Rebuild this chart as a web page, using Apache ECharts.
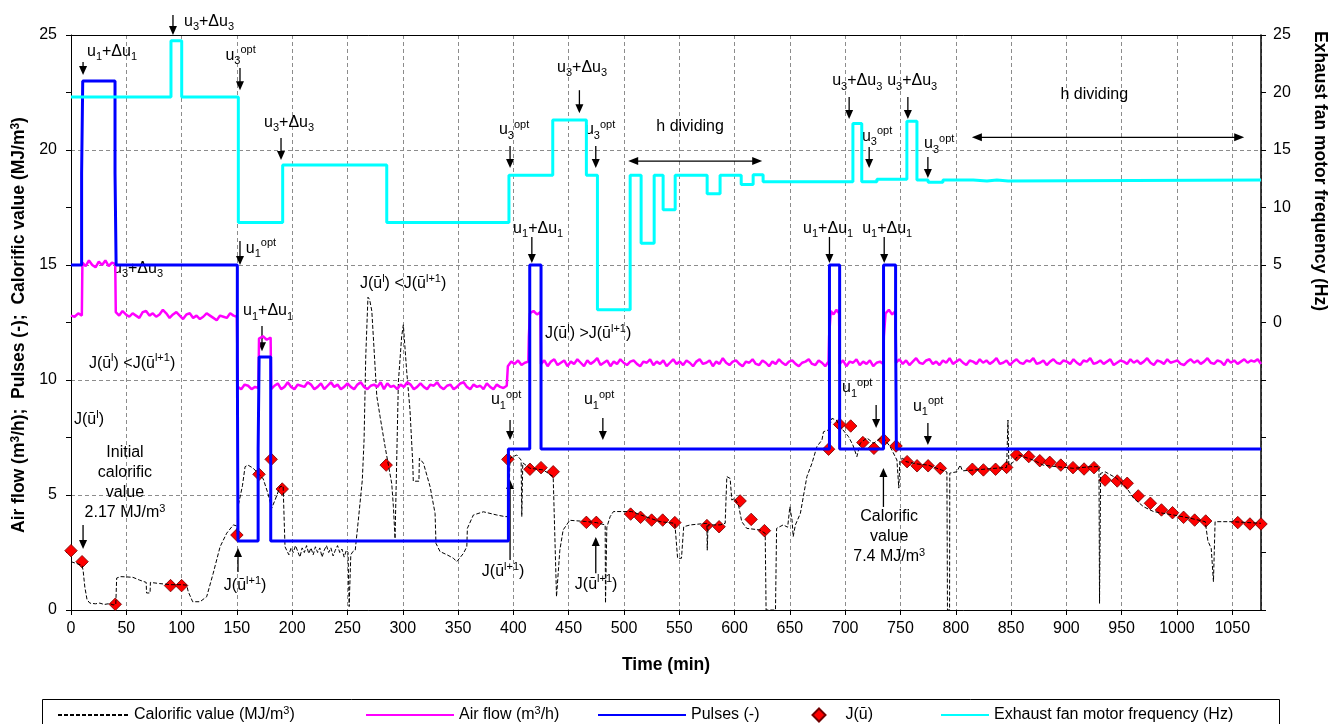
<!DOCTYPE html>
<html>
<head>
<meta charset="utf-8">
<script src="https://cdn.jsdelivr.net/npm/echarts@6/dist/echarts.min.js"></script>
<style>
  html, body { margin: 0; padding: 0; background: #fff; }
  #chart { width: 1338px; height: 724px; }
</style>
</head>
<body>
<div id="chart"></div>
<script>
// ---------------- data ----------------
// Calorific value of the gas (MJ/m3) against time (min)
const calTime = [
  0, 5, 10, 11, 12.5, 14.5, 17, 22, 26, 30, 35, 38, 40.5, 41.3, 45, 50, 56, 62, 68, 68.3, 71.5, 71.8, 80, 90, 100,
  104.6, 106, 110, 116.7, 122.7, 128.6, 134.8, 140.8, 146.8, 150, 150.4, 150.6, 152, 155, 157.4, 160, 164.6, 169,
  173.8, 178, 181.5, 184.5, 189, 191.8, 193.5,
  195, 197, 199, 201, 203, 205, 207, 209, 211, 213, 215, 217, 219, 221, 223, 225, 227, 229, 231, 233, 235, 237, 239,
  241, 243, 245, 247, 249, 250.5, 251.5, 253, 255, 257,
  260, 263.4, 265, 266.5, 268.5, 270, 272, 276.5, 279.5, 284, 287, 290, 291.5, 293, 294.5, 296, 299, 300.5, 303.5,
  306.5, 309, 309.5, 314.6, 315, 318.7, 324.7, 329.2, 330, 333.7, 340, 345.8, 348.8, 354.8, 357.9, 358.4, 363.8,
  372.9, 385, 392.5, 395.5, 397, 403, 407, 407.6, 408.5, 415, 427, 436, 439, 442, 445, 451, 465, 475, 483, 483.3,
  484.5, 487.5, 490.5, 507, 520, 532.7, 546, 548.5, 552, 554, 560, 575, 575.3, 576, 587, 591.5, 593, 596, 597.5,
  600, 603.5, 606.5, 611, 623, 627.7, 628.5, 637, 638, 644, 648, 650, 652, 653, 655, 659.5, 665.4, 670, 674.4, 679,
  680.4, 685, 688, 692, 695.5, 703, 707, 710.6, 713.6, 719.6, 725.6, 731.7, 735, 740.7, 746.8, 748.5, 749.5, 752,
  755, 765, 775, 787, 792, 792.5, 794.4, 794.6, 801, 804, 806, 820, 846, 847.2, 848, 851, 857, 861, 870, 879, 891,
  906.5, 921.6, 929.5, 930, 931, 935, 945.7, 954.8, 960.8, 969.8, 978.8, 987.9, 997, 1012, 1025.6, 1028, 1031,
  1032.5, 1033, 1034.5, 1050, 1076
];
const calValue = [
  2.10, 2.02, 1.94, 1.70, 1.00, 0.45, 0.30, 0.27, 0.30, 0.24, 0.28, 0.22, 0.24, 1.39, 1.45, 1.44, 1.42, 1.30, 1.20,
  0.74, 0.74, 1.20, 1.15, 1.10, 1.10, 1.08, 0.80, 0.36, 0.36, 0.58, 1.60, 2.75, 3.34, 3.70, 3.65, 3.30, 4.40, 4.35,
  5.40, 6.23, 6.30, 6.17, 5.95, 5.70, 5.08, 4.43, 4.78, 5.36, 5.40, 2.75,
  2.70, 2.40, 2.70, 2.50, 2.80, 2.55, 2.30, 2.70, 2.50, 2.80, 2.45, 2.70, 2.40, 2.75, 2.50, 2.70, 2.30, 2.60, 2.80,
  2.50, 2.70, 2.35, 2.60, 2.80, 2.50, 2.65, 2.30, 2.60, 2.50, 0.15, 2.40, 2.55, 2.60,
  4.00, 5.65, 7.40, 11.0, 13.6, 13.5, 13.0, 9.3, 8.4, 7.1, 6.3, 5.5, 4.5, 3.1, 6.5, 9.9, 11.9, 12.4, 10.4,
  8.7, 6.4, 5.6, 5.6, 6.6, 6.38, 5.36, 4.20, 2.90, 2.54, 2.40, 2.25, 2.10, 2.46, 2.75, 3.55, 4.13,
  4.27, 4.13, 4.06, 4.06, 6.60, 6.74, 6.52, 4.06, 6.40, 6.16, 6.09, 5.80, 0.58, 2.60, 3.48, 3.90, 3.85, 3.80, 3.70, 0.30,
  3.60, 4.06, 4.28, 4.28, 4.05, 3.84, 3.77, 2.25, 2.25, 3.62, 3.70, 3.77, 2.60, 3.70, 3.70, 3.77, 5.80, 5.72, 4.78,
  4.85, 4.57, 3.84, 3.55, 3.48, 3.33, 0, 0, 3.55, 3.70, 3.60, 4.49, 3.90, 3.19, 3.70, 4.20, 5.80, 6.38, 7.10, 7.39,
  7.75, 7.83, 8.33, 8.26, 7.97, 7.54, 7.17, 6.67, 7.25, 7.48, 7.25, 7.46, 7.46, 7.10, 6.52, 5.30, 6.52, 6.60,
  6.45, 6.35, 6.30, 6.09, 6.00, 0, 0, 5.95, 6.01, 6.30, 6.05, 6.10, 6.20, 8.26, 6.30, 6.38, 6.74, 6.67, 6.52, 6.30, 6.23,
  6.16, 6.23, 6.23, 0.29, 5.94, 6.01, 5.72, 5.29, 4.86, 4.49, 4.28, 4.20, 4.13, 3.99, 3.84, 3.00, 2.68,
  2.68, 1.23, 3.84, 3.84, 3.77
];

// Air flow (m3/h): [start, end, readings spread evenly over the run]
const airFlowRuns = [
  [0, 9.8, [12.8, 12.75, 12.9, 12.8]],
  [10.3, 40, [15.1, 14.95, 15.2, 15.0, 14.9, 15.15, 15.0, 15.2, 14.95, 15.1, 15.05]],
  [40.5, 150, [12.95, 12.8, 13.0, 12.85, 12.75, 12.9, 12.8, 12.7, 12.95, 13.0, 12.8, 12.9, 12.75, 12.85, 13.05, 12.9,
    12.7, 12.85, 12.95, 12.8, 12.65, 12.85, 12.9, 12.7, 12.8, 12.65, 12.75, 12.9, 12.8, 12.7, 12.6, 12.8, 12.75, 12.7,
    12.9, 12.8, 12.75]],
  [150.8, 169.5, [9.7, 9.6, 9.8, 9.75, 9.6, 9.7, 9.65]],
  [170, 180.5, [11.8, 11.9, 11.75, 11.85]],
  [181, 394, [9.6, 9.75, 9.85, 9.6, 9.7, 9.9, 9.7, 9.6, 9.8, 9.75, 9.7, 9.9, 9.8, 9.6, 9.7, 9.85, 9.6, 9.75, 9.9, 9.7,
    9.8, 9.6, 9.7, 9.85, 9.7, 9.6, 9.8, 9.9, 9.7, 9.6, 9.75, 9.8, 9.7, 9.9, 9.6, 9.85, 9.7, 9.75, 9.6, 9.8, 9.7, 9.9,
    9.8, 9.6, 9.7, 9.85, 9.7, 9.6, 9.8, 9.75, 9.9, 9.7, 9.6, 9.75, 9.8, 9.6, 9.7, 9.85, 9.9, 9.7, 9.6, 9.8, 9.7, 9.75,
    9.6, 9.85, 9.7, 9.6, 9.8, 9.7, 9.65, 9.75]],
  [395, 413.5, [10.6, 10.8, 10.7, 10.85, 10.65, 10.75, 10.8]],
  [414, 414.5, [11.9, 11.9]],
  [415, 424.5, [12.9, 13.0, 12.85, 12.95]],
  [425, 685, [10.7, 10.85, 10.6, 10.8, 10.9, 10.65, 10.75, 10.85, 10.6, 10.8, 10.7, 10.9, 10.75, 10.6, 10.85, 10.7,
    10.8, 10.95, 10.65, 10.75, 10.85, 10.6, 10.8, 10.7, 10.9, 10.75, 10.65, 10.8, 10.85, 10.7, 10.6, 10.8, 10.75, 10.9,
    10.65, 10.8, 10.7, 10.85, 10.6, 10.75, 10.9, 10.7, 10.8, 10.65, 10.85, 10.75, 10.6, 10.8, 10.9, 10.7, 10.75, 10.85,
    10.6, 10.8, 10.7, 10.95, 10.75, 10.65, 10.8, 10.85, 10.7, 10.6, 10.8, 10.75, 10.9, 10.7, 10.65, 10.85, 10.75, 10.6,
    10.8, 10.7, 10.9, 10.75, 10.65, 10.8, 10.85, 10.7, 10.6, 10.75, 10.8, 10.9, 10.7, 10.65, 10.85, 10.75, 10.6, 10.8]],
  [685.5, 686.5, [11.9, 11.9]],
  [687, 694.5, [13.0, 12.85, 13.05, 12.9]],
  [695, 734.5, [10.7, 10.85, 10.6, 10.8, 10.75, 10.9, 10.65, 10.8, 10.7, 10.85, 10.6, 10.75, 10.8, 10.7]],
  [735, 736, [11.9, 11.9]],
  [736.5, 745.5, [12.9, 13.05, 12.85, 13.0]],
  [746, 1076, [10.75, 10.9, 10.7, 10.85, 10.65, 10.8, 10.95, 10.75, 10.7, 10.85, 10.9, 10.7, 10.8, 10.65, 10.85, 10.75,
    10.95, 10.7, 10.8, 10.9, 10.75, 10.65, 10.85, 10.8, 10.7, 10.9, 10.75, 10.85, 10.7, 10.8, 10.95, 10.7, 10.75, 10.85,
    10.65, 10.8, 10.9, 10.75, 10.7, 10.85, 10.8, 10.95, 10.7, 10.75, 10.85, 10.65, 10.8, 10.9, 10.75, 10.7, 10.85, 10.8,
    10.7, 10.9, 10.75, 10.65, 10.85, 10.8, 10.95, 10.7, 10.75, 10.85, 10.7, 10.8, 10.9, 10.65, 10.75, 10.85, 10.8, 10.7,
    10.9, 10.75, 10.85, 10.7, 10.8, 10.95, 10.75, 10.65, 10.85, 10.8, 10.7, 10.9, 10.75, 10.8, 10.85, 10.7, 10.65, 10.8,
    10.9, 10.75, 10.85, 10.7, 10.8, 10.95, 10.75, 10.7, 10.85, 10.8, 10.65, 10.9, 10.75, 10.85, 10.7, 10.8, 10.9, 10.75,
    10.85, 10.8, 10.9, 10.7]]
];

// Pulses (-): value held from each time until the next one
const pulseTime  = [0, 9.6, 10.6, 39.8, 40.8, 150.4, 151, 169.2, 170.1, 180.6, 395.5, 414.8, 425, 685.8, 695, 734.7, 745.6, 746.3, 1076];
const pulseValue = [15, 19, 23, 19, 15, 10.8, 3, 7, 11, 3, 7, 15, 7, 15, 7, 15, 12.2, 7, 7];

// Exhaust fan motor frequency (Hz): value held from each time until the next one
const fanTime = [0, 90.4, 100.1, 151.3, 191.4, 285.5, 396, 435.6, 466, 476, 505.6, 515.5, 527.3, 535.4, 546.3,
  575.2, 586.9, 606, 616.8, 625.8, 707, 715, 728.7, 755.8, 764.9, 775, 788.4, 815.8, 828.2, 837.2, 847.4, 1076];
const fanHz = [19.6, 24.5, 19.6, 8.7, 13.7, 8.7, 12.8, 17.6, 12.8, 1.1, 12.8, 6.9, 12.8, 9.8, 12.8,
  11.2, 12.8, 12.0, 12.85, 12.25, 17.3, 12.25, 12.45, 17.5, 12.4, 12.2, 12.4, 12.3, 12.4, 12.3, 12.4, 12.4];

// Objective J(u) evaluations
const jTime = [0, 10, 40, 90, 100, 150, 170, 181, 191, 285, 395, 415, 425, 436, 466, 475, 506, 515, 525, 535, 546,
  575, 586, 605, 615, 627, 685, 695, 705, 716, 726, 735, 746, 756, 765, 775, 786, 815, 825, 836, 846, 855, 866, 876,
  885, 895, 906, 916, 925, 935, 946, 955, 965, 976, 986, 996, 1006, 1016, 1026, 1055, 1066, 1076];
const jValue = [2.58, 2.10, 0.25, 1.06, 1.06, 3.26, 5.90, 6.55, 5.26, 6.30, 6.55, 6.12, 6.19, 6.01, 3.81, 3.81, 4.17,
  4.03, 3.91, 3.91, 3.80, 3.67, 3.62, 4.74, 3.94, 3.45, 6.99, 8.07, 8.00, 7.28, 7.03, 7.39, 7.13, 6.45, 6.27, 6.27,
  6.16, 6.12, 6.09, 6.12, 6.20, 6.74, 6.67, 6.49, 6.42, 6.30, 6.19, 6.13, 6.19, 5.65, 5.61, 5.51, 4.96, 4.64, 4.35,
  4.23, 4.03, 3.91, 3.87, 3.80, 3.74, 3.74];

// Annotation texts (rich-text markup)
const U1D = 'u{sub|1}+Δu{sub|1}';
const U3D = 'u{sub|3}+Δu{sub|3}';
const U1O = 'u{sub|1}{sup|opt}';
const U3O = 'u{sub|3}{sup|opt}';
const JLT = 'J(ū{sup|l}) <J(ū{sup|l+1})';
const JGT = 'J(ū{sup|l}) >J(ū{sup|l+1})';
const JL  = 'J(ū{sup|l})';
const JL1 = 'J(ū{sup|l+1})';

// [time, left-axis value, text, line height]
const textNotes = [
  [37.1, 24.3, U1D], [124.8, 25.6, U3D], [153.3, 24.1, U3O], [197.2, 21.2, U3D],
  [171.8, 15.7, U1O], [178.2, 13.0, U1D], [55.2, 10.7, JLT], [16.3, 8.26, JL],
  [48.8, 5.52, 'Initial\ncalorific\nvalue\n2.17 MJ/m{sup|3}', 20], [157.4, 1.04, JL1],
  [300.3, 14.17, JLT], [422.4, 16.57, U1D], [467.6, 12.0, JGT], [393.4, 9.13, U1O],
  [477.5, 9.13, U1O], [390.7, 1.65, JL1], [474.8, 1.09, JL1], [400.6, 20.87, U3O],
  [462.1, 23.57, U3D], [478.4, 20.87, U3O], [559.8, 21.0, 'h dividing'], [925.2, 22.39, 'h dividing'],
  [710.9, 23.0, U3D], [760.6, 23.0, U3D], [728.9, 20.58, U3O], [785, 20.26, U3O],
  [684.6, 16.57, U1D], [738, 16.57, U1D], [710.9, 9.65, U1O], [775, 8.83, U1O],
  [739.8, 3.17, 'Calorific\nvalue\n7.4 MJ/m{sup|3}', 20], [60.6, 14.83, U3D]
];

// Vertical arrows: [time, tail value, head value]
const arrowNotes = [
  [10.9, 23.83, 23.26], [92.2, 25.87, 25.0], [152.8, 23.57, 22.6], [189.9, 20.52, 19.57],
  [152.8, 16.04, 15.0], [172.7, 12.35, 11.25], [10.9, 3.7, 2.65], [151, 1.65, 2.7],
  [416.7, 16.22, 15.09], [397, 8.26, 7.39], [480.9, 8.35, 7.39], [397, 2.17, 5.65],
  [474.5, 1.6, 3.17], [397, 20.17, 19.22], [459.7, 22.6, 21.6], [474.5, 20.17, 19.22],
  [703.6, 22.3, 21.35], [756.7, 22.3, 21.35], [721.7, 20.13, 19.22], [774.8, 19.7, 18.78],
  [685.8, 16.22, 15.09], [735.3, 16.22, 15.09], [728, 8.91, 7.91], [774.8, 8.13, 7.17],
  [734.6, 4.48, 6.17]
];

// Two-headed horizontal arrows: [from time, to time, left-axis value]
const spanArrows = [[503.8, 625, 19.52], [814.6, 1060.8, 20.55]];

// ---------------- chart ----------------
const FONT = '"Liberation Sans", Arial, Helvetica, sans-serif';
const NONE = 'rgba(0,0,0,0)';
const zip = (xs, ys) => xs.map((x, i) => [x, ys[i]]);

function airFlowData() {
  const pts = [];
  airFlowRuns.forEach(([t0, t1, vals]) => {
    const n = vals.length;
    vals.forEach((v, i) => pts.push([n > 1 ? t0 + (t1 - t0) * i / (n - 1) : t0, v]));
  });
  return pts;
}

const chart = echarts.init(document.getElementById('chart'), null, { renderer: 'canvas', width: 1338, height: 724 });

const axisText = { fontSize: 16, color: '#000', fontFamily: FONT };
const RICH = {
  sub: { fontSize: 11, fontFamily: FONT, fill: '#000', color: '#000', verticalAlign: 'bottom' },
  sup: { fontSize: 11, fontFamily: FONT, fill: '#000', color: '#000', verticalAlign: 'top' }
};

const legendBase = {
  top: 705, orient: 'horizontal', selectedMode: false, itemHeight: 13, padding: 0,
  textStyle: { fontSize: 16, color: '#000', fontFamily: FONT, lineHeight: 20,
    rich: { sup: { fontSize: 11, fontFamily: FONT, color: '#000', verticalAlign: 'top' } } },
  formatter: name => name.replace('m3', 'm{sup|3}')
};
const legendPadded = Object.assign({}, legendBase, {
  textStyle: Object.assign({}, legendBase.textStyle, { padding: [0, 0, 0, 15] })
});

const option = {
  animation: false,
  backgroundColor: '#fff',
  grid: { left: 71, right: 77, top: 35, bottom: 114, outerBoundsMode: 'none' },
  xAxis: [{
    type: 'value', min: 0, max: 1076, interval: 50,
    axisLine: { lineStyle: { color: '#000', width: 1 } },
    axisTick: { show: true, length: 5, lineStyle: { color: '#000' } },
    axisLabel: Object.assign({ margin: 11, formatter: v => String(v) }, axisText),
    splitLine: { show: true, lineStyle: { color: '#8c8c8c', width: 1, type: [4, 3] } }
  }, {
    type: 'value', position: 'top', min: 0, max: 1076,
    axisLine: { show: true, onZero: false, lineStyle: { color: '#000', width: 1 } },
    axisTick: { show: false }, axisLabel: { show: false }, splitLine: { show: false }
  }],
  yAxis: [{
    type: 'value', position: 'left', min: 0, max: 25, interval: 5,
    axisLine: { show: true, lineStyle: { color: '#000', width: 1 } },
    axisTick: { show: true, length: 5, lineStyle: { color: '#000' } },
    axisLabel: Object.assign({ margin: 14 }, axisText),
    splitLine: { show: true, lineStyle: { color: '#8c8c8c', width: 1, type: [4, 3] } }
  }, {
    type: 'value', position: 'right', min: -25, max: 25, interval: 5,
    axisLine: { show: true, onZero: false, lineStyle: { color: '#000', width: 1.5 } },
    axisTick: { show: true, length: 5, lineStyle: { color: '#000' } },
    axisLabel: Object.assign({ margin: 12, formatter: v => (v >= 0 ? String(v) : '') }, axisText),
    splitLine: { show: false }
  }, {
    type: 'value', position: 'right', min: -25, max: 25, interval: 5,
    axisLine: { show: false },
    axisTick: { show: true, inside: true, length: 5, lineStyle: { color: '#000' } },
    axisLabel: { show: false }, splitLine: { show: false }
  }],
  legend: [
    Object.assign({ left: 57, itemWidth: 71, data: ['Calorific value (MJ/m3)'] }, legendBase),
    Object.assign({ left: 365, itemWidth: 88, data: ['Air flow (m3/h)'] }, legendBase),
    Object.assign({ left: 597, itemWidth: 88, data: ['Pulses (-)'] }, legendBase),
    Object.assign({ left: 811.5, itemWidth: 13, itemHeight: 13, data: ['J(ū)'] }, legendPadded),
    Object.assign({ left: 940, itemWidth: 48, data: ['Exhaust fan motor frequency (Hz)'] }, legendBase)
  ],
  series: [{
    name: 'Calorific value (MJ/m3)', type: 'line', xAxisIndex: 0, yAxisIndex: 0,
    data: zip(calTime, calValue), symbol: 'none',
    lineStyle: { color: '#000', width: 1, type: [4, 2] }, itemStyle: { color: NONE }
  }, {
    name: 'Air flow (m3/h)', type: 'line', xAxisIndex: 0, yAxisIndex: 0,
    data: airFlowData(), symbol: 'none',
    lineStyle: { color: '#ff00ff', width: 2.5 }, itemStyle: { color: NONE }
  }, {
    name: 'Pulses (-)', type: 'line', step: 'end', xAxisIndex: 0, yAxisIndex: 0,
    data: zip(pulseTime, pulseValue), symbol: 'none',
    lineStyle: { color: '#0000ff', width: 3 }, itemStyle: { color: NONE }
  }, {
    name: 'Exhaust fan motor frequency (Hz)', type: 'line', step: 'end', xAxisIndex: 0, yAxisIndex: 1,
    data: zip(fanTime, fanHz), symbol: 'none',
    lineStyle: { color: '#00ffff', width: 3 }, itemStyle: { color: NONE }
  }, {
    name: 'J(ū)', type: 'scatter', xAxisIndex: 0, yAxisIndex: 0,
    data: zip(jTime, jValue), symbol: 'diamond', symbolSize: 12.5,
    itemStyle: { color: '#ff0000', borderColor: '#700000', borderWidth: 0.8, opacity: 1 }
  }]
};

chart.setOption(option);

// Notes, arrows, axis titles and the legend frame, placed through the axis scales
function buildGraphics() {
  const toPx = (t, v) => chart.convertToPixel({ xAxisIndex: 0, yAxisIndex: 0 }, [t, v]);
  const els = [];
  textNotes.forEach(([t, v, text, lh]) => {
    const [x, y] = toPx(t, v);
    els.push({
      type: 'text', x: x, y: y, z: 1, silent: true,
      style: {
        text: text, fontFamily: FONT, fontSize: 16, fill: '#000',
        align: 'center', verticalAlign: 'middle', textAlign: 'center', textVerticalAlign: 'middle',
        lineHeight: lh || 22, rich: RICH
      }
    });
  });
  const head = (x, y, dir) => ({
    type: 'polygon', z: 1, silent: true,
    shape: { points: [[x, y], [x - 4, y - 9 * dir], [x + 4, y - 9 * dir]] },
    style: { fill: '#000' }
  });
  arrowNotes.forEach(([t, v0, v1]) => {
    const [x, y0] = toPx(t, v0);
    const y1 = toPx(t, v1)[1];
    const dir = y1 > y0 ? 1 : -1;
    els.push({ type: 'line', z: 1, silent: true, shape: { x1: x, y1: y0, x2: x, y2: y1 - 8 * dir },
      style: { stroke: '#000', lineWidth: 1.3 } });
    els.push(head(x, y1, dir));
  });
  spanArrows.forEach(([t0, t1, v]) => {
    const [x0, y] = toPx(t0, v);
    const x1 = toPx(t1, v)[0];
    els.push({ type: 'line', z: 1, silent: true, shape: { x1: x0 + 8, y1: y, x2: x1 - 8, y2: y },
      style: { stroke: '#000', lineWidth: 1.3 } });
    els.push({ type: 'polygon', z: 1, silent: true, shape: { points: [[x0, y], [x0 + 10, y - 4], [x0 + 10, y + 4]] }, style: { fill: '#000' } });
    els.push({ type: 'polygon', z: 1, silent: true, shape: { points: [[x1, y], [x1 - 10, y - 4], [x1 - 10, y + 4]] }, style: { fill: '#000' } });
  });
  const titleStyle = { fontFamily: FONT, fontSize: 17.5, fontWeight: 'bold', fill: '#000',
    align: 'center', verticalAlign: 'middle', textAlign: 'center', textVerticalAlign: 'middle',
    rich: { sup: { fontSize: 12, fontFamily: FONT, fontWeight: 'bold', fill: '#000', verticalAlign: 'top' } } };
  els.push({ type: 'text', x: 666, y: 665, silent: true, style: Object.assign({ text: 'Time (min)' }, titleStyle) });
  els.push({ type: 'text', x: 19, y: 325, rotation: Math.PI / 2, silent: true,
    style: Object.assign({ text: 'Air flow (m{sup|3}/h);  Pulses (-);  Calorific value (MJ/m{sup|3})' }, titleStyle) });
  els.push({ type: 'text', x: 1320, y: 171, rotation: -Math.PI / 2, silent: true,
    style: Object.assign({ text: 'Exhaust fan motor frequency (Hz)' }, titleStyle) });
  els.push({ type: 'rect', silent: true, z: 0, shape: { x: 42.5, y: 699.5, width: 1237, height: 40 },
    style: { fill: 'none', stroke: '#000', lineWidth: 1 } });
  return els;
}

chart.setOption({ graphic: buildGraphics() });
</script>
</body>
</html>
